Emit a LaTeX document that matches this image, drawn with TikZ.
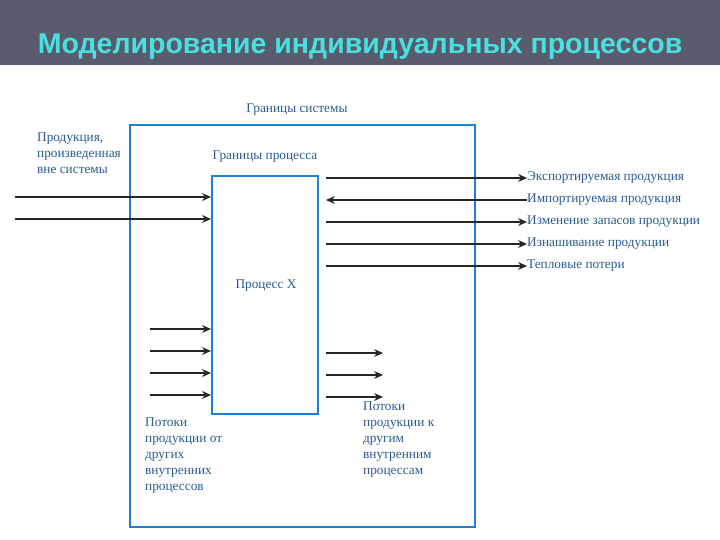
\documentclass[tikz,border=0pt]{standalone}
\usepackage{fontspec}
\setmainfont{Liberation Serif}
\newfontfamily\titlefont{Liberation Sans}
\usetikzlibrary{arrows.meta}
\definecolor{band}{HTML}{585C6C}
\definecolor{ttl}{HTML}{48E0E0}
\definecolor{frame}{HTML}{1E7FD8}
\definecolor{txt}{HTML}{2A5A90}
\tikzset{
  lbl/.style={text=txt,font=\fontsize{13.3}{16}\selectfont,inner sep=0pt},
  flow/.style={draw=black!85,line width=1.1pt,-{Stealth[length=9pt,width=8pt]}},
  boxline/.style={draw=frame,line width=2pt}
}
\begin{document}
\begin{tikzpicture}[x=1pt,y=-1pt]
\useasboundingbox (0,0) rectangle (720,540);
\fill[band] (0,0) rectangle (720,65);
\node[text=ttl,font=\titlefont\bfseries\fontsize{28.5}{32}\selectfont] (title) at (360,47) {Моделирование индивидуальных процессов};
\draw[boxline] (130,125) rectangle (475,527);
\node[boxline,minimum width=106pt,minimum height=238pt,inner sep=0pt] (proc) at (265,295) {};
\node[lbl] (sys) at (297,110) {Границы системы};
\node[lbl] (pb) at (265,157) {Границы процесса};
\node[lbl] (px) at (266,286) {Процесс X};
\node[lbl,align=left,anchor=north west] (ext) at (37,133) {Продукция,\\произведенная\\вне системы};
\node[lbl,align=left,anchor=north west] (bl) at (145,418) {Потоки\\продукции от\\других\\внутренних\\процессов};
\node[lbl,align=left,anchor=north west] (br) at (363,402) {Потоки\\продукции к\\другим\\внутренним\\процессам};
% left inputs
\foreach \y/\n in {197/a,219/b}{
  \coordinate (s\n) at (15,\y);
  \draw[flow] (s\n) -- (proc.west |- s\n);
}
% right flows
\foreach \y/\t/\n in {178/{Экспортируемая продукция}/r1,222/{Изменение запасов продукции}/r3,244/{Изнашивание продукции}/r4,266/{Тепловые потери}/r5}{
  \node[lbl,anchor=west] (\n) at (527,\y) {\t};
  \coordinate (c\n) at (326,\y);
  \draw[flow] (c\n) -- (\n.west);
}
\node[lbl,anchor=west] (r2) at (527,200) {Импортируемая продукция};
\coordinate (cr2) at (326,200);
\draw[flow] (r2.west) -- (cr2);
% bottom left
\foreach \y/\n in {329/p,351/q,373/r,395/s}{
  \coordinate (bl\n) at (150,\y);
  \draw[flow] (bl\n) -- (proc.west |- bl\n);
}
% bottom right
\foreach \y/\n in {353/p,375/q,397/r}{
  \coordinate (br\n) at (383,\y);
  \draw[flow] (326,\y) -- (br\n);
}
\end{tikzpicture}
\end{document}
